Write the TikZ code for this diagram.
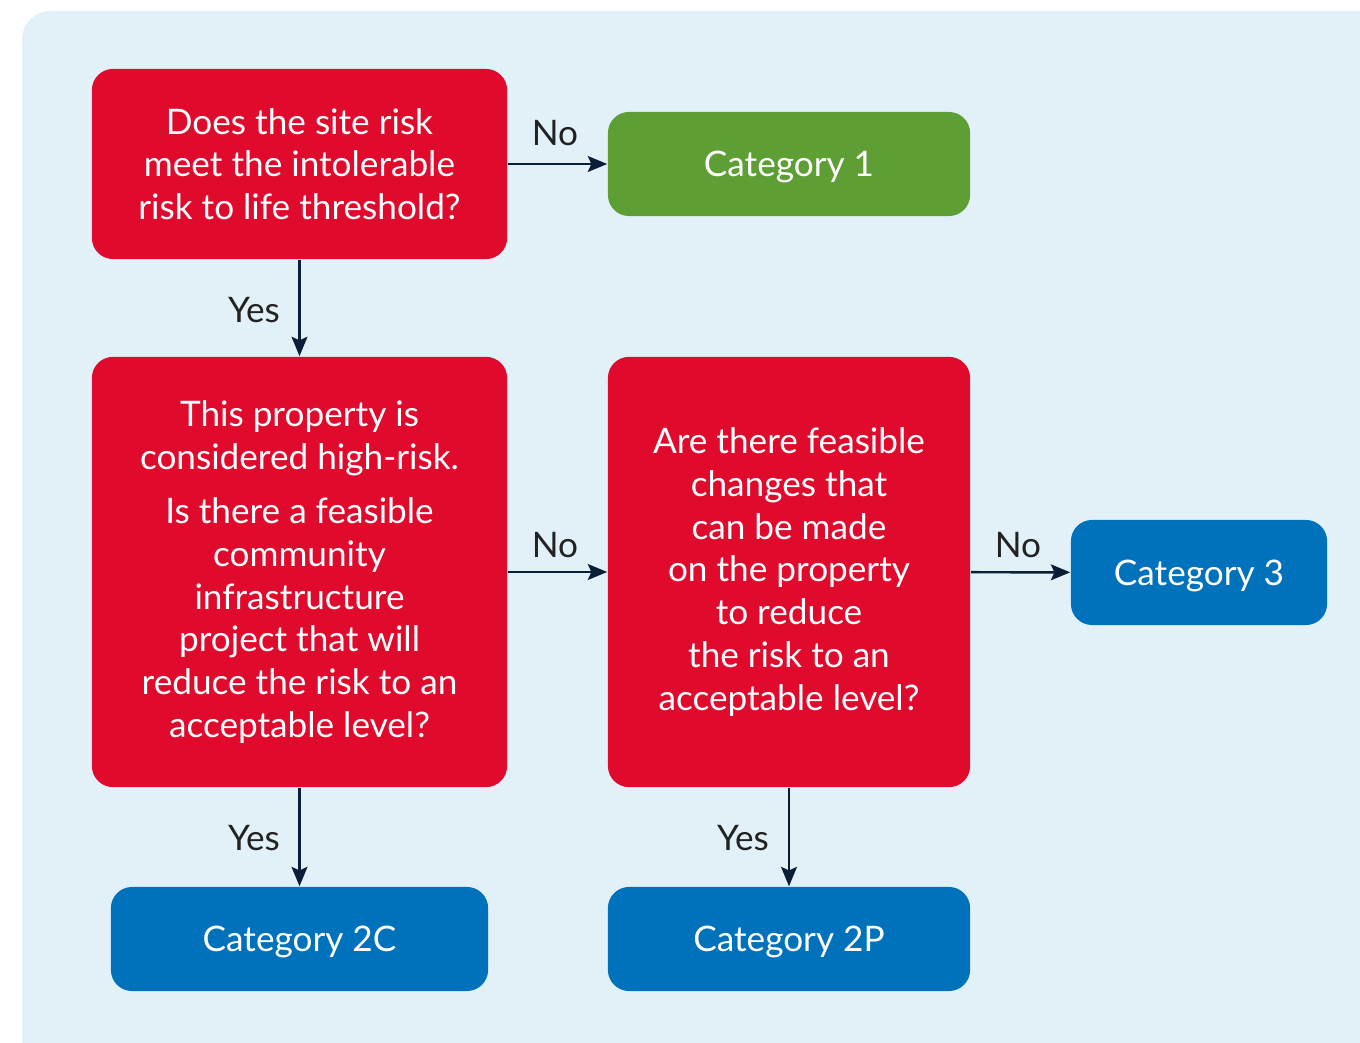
\documentclass[tikz,border=0pt]{standalone}
\usepackage{fontspec}
\setmainfont{Lato}
\usepackage{tikz}
\usetikzlibrary{calc,shapes,arrows.meta}

\definecolor{panel}{HTML}{E2F1F7}
\definecolor{qred}{HTML}{E00A2C}
\definecolor{catgreen}{HTML}{5E9F35}
\definecolor{catblue}{HTML}{0071BB}
\definecolor{arrowc}{HTML}{0B1E38}
\definecolor{labelc}{HTML}{222222}

\begin{document}
\begin{tikzpicture}[x=0.01cm,y=-0.01cm,
  box/.style={rounded corners=6pt,text=white,align=center,inner sep=0pt,
    font=\fontsize{10}{12.15}\selectfont},
  question/.style={box,fill=qred},
  catgreen/.style={box,fill=catgreen,text depth=0pt},
  catblue/.style={box,fill=catblue,text depth=0pt},
  flow/.style={-{Stealth[length=5.5pt,width=4.5pt,inset=1pt]},draw=arrowc,line width=0.7pt},
  answer/.style={text=labelc,font=\fontsize{10}{12.15}\selectfont}]
\useasboundingbox (0,0) rectangle (1360,1043);
\fill[panel,rounded corners=8pt] (22,11) rectangle (1420,1100);

\node[question,minimum width=4.15cm,minimum height=1.9cm] (Q1) at (299.5,164)
  {Does the site risk\\meet the intolerable\\risk to life threshold?};
\node[catgreen,minimum width=3.62cm,minimum height=1.04cm] (C1) at (789,164) {Category 1};

\node[question,minimum width=4.15cm,minimum height=4.3cm] (Q2) at (299.5,572)
  {This property is\\considered high-risk.\\[3.3pt]Is there a feasible\\community\\infrastructure\\project that will\\reduce the risk to an\\acceptable level?};
\node[question,minimum width=3.62cm,minimum height=4.3cm] (Q3) at (789,572)
  {Are there feasible\\changes that\\can be made\\on the property\\to reduce\\the risk to an\\acceptable level?};
\node[catblue,minimum width=2.56cm,minimum height=1.05cm] (C3) at (1199,572.5) {Category 3};

\node[catblue,minimum width=3.77cm,minimum height=1.04cm] (C2C) at (299.5,939) {Category 2C};
\node[catblue,minimum width=3.62cm,minimum height=1.04cm] (C2P) at (789,939) {Category 2P};

\draw[flow] (Q1) -- (C1);
\draw[flow] (Q1) -- (Q2);
\draw[flow] (Q2) -- (Q3);
\draw[flow] (Q3) -- (C3);
\draw[flow] (Q2) -- (C2C);
\draw[flow] (Q3) -- (C2P);

\node[answer] (no1) at (555,133) {No};
\node[answer] (yes1) at (254,310) {Yes};
\node[answer] (no2) at (555,545) {No};
\node[answer] (no3) at (1018,545) {No};
\node[answer] (yes2) at (254,838) {Yes};
\node[answer] (yes3) at (743,838) {Yes};
\end{tikzpicture}
\end{document}
